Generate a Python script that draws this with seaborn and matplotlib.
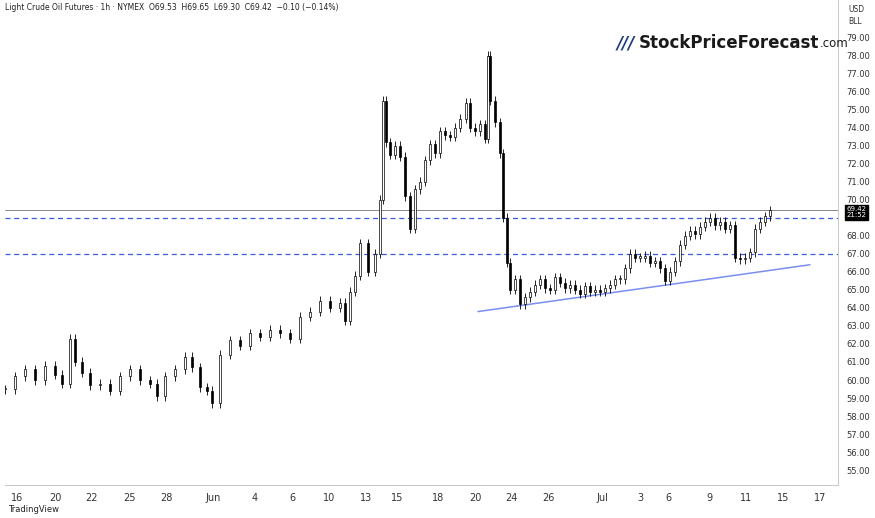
import numpy as np
import pandas as pd
import matplotlib.pyplot as plt
import seaborn as sns

sns.set_style("white")

# pixel-like x positions of sampled closes (converted to trading days below)
close_px = [5, 15, 25, 35, 45, 55, 62, 70, 75, 82, 90, 100, 110, 120, 130, 140, 150, 157,
            165, 175, 185, 192, 200, 207, 212, 220, 230, 240, 250, 260, 270, 280, 290, 300,
            310, 320, 330, 340, 345, 350, 355, 360, 368, 375, 380, 383, 386, 390, 395, 400,
            405, 410, 415, 420, 425, 430, 435, 440, 445, 450, 455, 460, 466, 470, 475, 480,
            485, 488, 490, 495, 500, 503, 507, 510, 515, 520, 525, 530, 535, 540, 545, 550,
            555, 560, 565, 570, 575, 580, 585, 590, 595, 600, 605, 610, 615, 620, 625, 630,
            635, 640, 645, 650, 655, 660, 665, 670, 675, 680, 685, 690, 695, 700, 705, 710,
            715, 720, 725, 730, 735, 740, 745, 750, 755, 760, 765, 770]
closes = [59.5, 60.2, 60.6, 60.0, 60.8, 60.3, 59.8, 62.3, 61.0, 60.4, 59.7, 59.8, 59.4, 60.2,
          60.6, 60.0, 59.8, 59.1, 60.2, 60.6, 61.3, 60.7, 59.6, 59.4, 58.7, 61.4, 62.2, 61.9,
          62.6, 62.4, 62.8, 62.6, 62.3, 63.5, 63.8, 64.4, 64.0, 64.3, 63.3, 64.9, 65.8, 67.6,
          66.0, 67.0, 70.0, 75.5, 73.2, 72.5, 73.0, 72.4, 70.2, 68.4, 70.6, 71.0, 72.2, 73.1,
          72.6, 73.8, 73.6, 73.5, 74.0, 74.5, 75.4, 74.0, 73.8, 74.2, 73.4, 78.0, 75.5, 74.3,
          72.6, 69.0, 66.5, 65.0, 65.6, 64.2, 64.6, 64.9, 65.3, 65.6, 65.1, 65.0, 65.7, 65.4,
          65.1, 65.3, 65.0, 64.8, 65.2, 64.9, 65.0, 64.9, 65.1, 65.3, 65.6, 65.6, 66.2, 67.0,
          66.8, 66.8, 66.9, 66.5, 66.6, 66.2, 65.5, 66.0, 66.6, 67.5, 68.0, 68.3, 68.1, 68.5,
          68.8, 69.0, 68.6, 68.8, 68.4, 68.6, 66.8, 66.7, 66.8, 67.1, 68.4, 68.8, 69.1, 69.42]

tick_px = [17, 55, 92, 129, 166, 213, 255, 292, 329, 366, 397, 438, 475, 511, 548, 602,
           640, 668, 709, 746, 783, 820]
tick_labels = ["16", "20", "22", "25", "28", "Jun", "4", "6", "10", "13", "15", "18", "20",
               "24", "26", "Jul", "3", "6", "9", "11", "15", "17"]
price_ticks = list(range(55, 80))
support_px = [478, 810]
support_price = [63.8, 66.4]
levels = [69.0, 67.0]
last_price = 69.42

PX_PER_DAY = 18.5
def to_day(p):
    return (np.asarray(p, dtype=float) - 17) / PX_PER_DAY

df = pd.DataFrame({"x": to_day(close_px), "close": closes})
df["open"] = df["close"].shift(1).fillna(df["close"])
df["high"] = df[["open", "close"]].max(axis=1) + 0.25
df["low"] = df[["open", "close"]].min(axis=1) - 0.25

fig = plt.figure(figsize=(8.75, 5.18), dpi=100)
ax = fig.add_axes([5 / 875, 33 / 518, 833 / 875, 485 / 518])

ax.vlines(df["x"], df["low"], df["high"], color="black", lw=0.6, zorder=3)
up = df["close"] >= df["open"]
ax.bar(df["x"], (df["close"] - df["open"]).abs().clip(lower=0.08),
       bottom=df[["open", "close"]].min(axis=1), width=0.1,
       color=np.where(up, "white", "black"), edgecolor="black", lw=0.5, zorder=4)

for lv in levels:
    ax.axhline(lv, color="#3a5bd9", ls=(0, (4, 3)), lw=0.9)
ax.axhline(last_price, color="#888888", lw=0.7)
sns.lineplot(x=to_day(support_px), y=support_price, ax=ax, color="#7b8ff0", lw=1.1)

ax.set_xlim(to_day(5), to_day(838))
ax.set_ylim(54.17, 81.1)
ax.set_xticks(to_day(tick_px))
ax.set_xticklabels(tick_labels, fontsize=7, color="#333")
ax.yaxis.tick_right()
ax.set_yticks(price_ticks)
ax.set_yticklabels(["" if v == 69 else f"{v:.2f}" for v in price_ticks], fontsize=6, color="#333")
ax.tick_params(length=0, pad=6)
for s in ["top", "left"]:
    ax.spines[s].set_visible(False)
for s in ["right", "bottom"]:
    ax.spines[s].set_color("#cccccc")

ax.text(1.01, last_price - 0.1, f"{last_price:.2f}\n21:52", transform=ax.get_yaxis_transform(),
        fontsize=5, color="white", va="center", ha="left", linespacing=1.0,
        bbox=dict(boxstyle="square,pad=0.2", fc="black", ec="black"))
fig.text(5 / 875, 1 - 8 / 518,
         "Light Crude Oil Futures · 1h · NYMEX  O69.53  H69.65  L69.30  C69.42  −0.10 (−0.14%)",
         fontsize=5.5, va="center", color="#222")
fig.text(848 / 875, 1 - 9 / 518, "USD", fontsize=5.5, va="center", color="#333")
fig.text(848 / 875, 1 - 21 / 518, "BLL", fontsize=5.5, va="center", color="#333")
fig.text(617 / 875, 1 - 43 / 518, "///", fontsize=12, fontweight="bold", color="#1f3d7a",
         va="center", style="italic")
brand = fig.text(639 / 875, 1 - 43 / 518, "StockPriceForecast", fontsize=12, fontweight="bold",
                 color="#1a1a1a", va="center")
fig.text(0, 0, ".com", fontsize=8.5, color="#1a1a1a", va="baseline",
         transform=brand.get_transform())
ax.annotate(".com", xy=(1.0, 0.12), xycoords=brand, fontsize=8.5, color="#1a1a1a",
            va="bottom", ha="left")
fig.texts[-1].set_visible(False)
fig.text(8 / 875, 1 - 509 / 518, "TradingView", fontsize=6, color="#222", va="center")

plt.savefig("out.png", dpi=100)
